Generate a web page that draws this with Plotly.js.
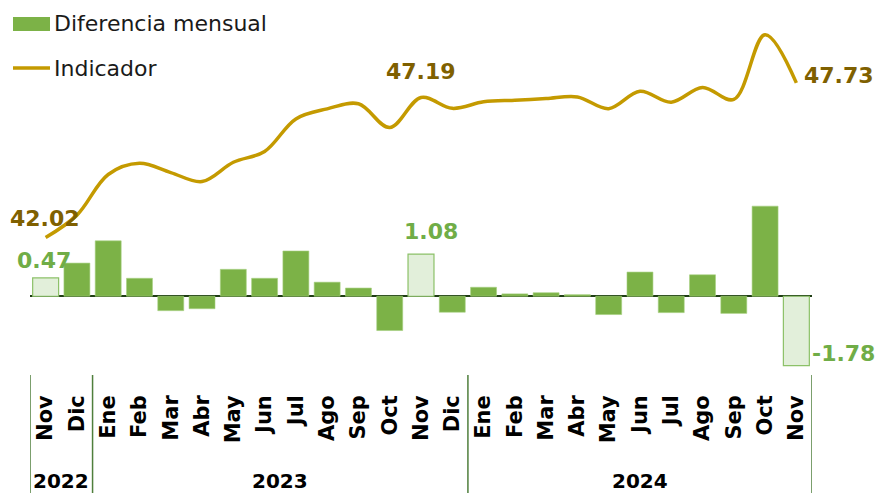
<!DOCTYPE html>
<html><head><meta charset="utf-8">
<script src="https://cdn.plot.ly/plotly-3.0.1.min.js"></script>
<style>html,body{margin:0;padding:0;background:#fff}#chart{width:880px;height:493px}</style>
</head><body><div id="chart"></div>
<script>
// ---- data ----
const months = ["Nov","Dic","Ene","Feb","Mar","Abr","May","Jun","Jul","Ago","Sep","Oct","Nov",
                "Dic","Ene","Feb","Mar","Abr","May","Jun","Jul","Ago","Sep","Oct","Nov"];
const years  = ["2022","2022","2023","2023","2023","2023","2023","2023","2023","2023","2023","2023","2023",
                "2023","2024","2024","2024","2024","2024","2024","2024","2024","2024","2024","2024"];
const diferencia = [0.47,0.85,1.42,0.46,-0.37,-0.32,0.69,0.46,1.16,0.36,0.21,-0.88,1.08,
                    -0.41,0.23,0.06,0.09,0.04,-0.47,0.62,-0.42,0.55,-0.44,2.31,-1.78];
const indicador = [42.02,42.85,44.35,44.76,44.42,44.09,44.80,45.20,46.40,46.77,46.96,46.08,47.19,
                   46.79,47.03,47.09,47.15,47.21,46.78,47.42,47.02,47.56,47.12,49.51,47.73];
const destacadosBarra = [0,12,24];
const destacadosLinea = [0,12,24];

// ---- styles ----
const FONT = "DejaVu Sans";
const GREEN = "#7cb247", LIGHT = "#e2efda", GREEN_LBL = "#70ad47";
const GOLD = "#c49a00", GOLD_LBL = "#7f6000";
const W = 880, H = 493, ML = 30, MR = 68, MT = 10, MB = 118;
const PW = W - ML - MR, PH = H - MT - MB;
const pxX = px => (px - ML) / PW;
const pxY = py => (H - MB - py) / PH;

const xs = months.map((_, i) => i);
const isHi = i => destacadosBarra.includes(i);

const bars = {
  type: "bar", x: xs, y: diferencia, name: "Diferencia mensual",
  marker: {
    color: xs.map(i => isHi(i) ? LIGHT : GREEN),
    line: { color: xs.map(i => isHi(i) ? "#8cc168" : "#a6d07f"), width: xs.map(i => isHi(i) ? 1.2 : 0.6) }
  },
  hoverinfo: "skip", showlegend: false
};
const line = {
  type: "scatter", mode: "lines", x: xs, y: indicador, yaxis: "y2", name: "Indicador",
  line: { color: GOLD, width: 3.5, shape: "spline", smoothing: 1 },
  hoverinfo: "skip", showlegend: false
};

const annotations = [];
destacadosBarra.forEach(i => {
  const v = diferencia[i];
  if (v >= 0) {
    annotations.push({ x: i, y: v, xref: "x", yref: "y", text: v.toFixed(2), showarrow: false,
      xanchor: "center", yanchor: "bottom", yshift: i === 0 ? 3 : 8, xshift: i === 12 ? 10 : -2,
      font: { family: FONT, size: 22, color: GREEN_LBL, weight: "bold" } });
  } else {
    annotations.push({ x: i, y: v, xref: "x", yref: "y", text: v.toFixed(2), showarrow: false,
      xanchor: "left", yanchor: "bottom", xshift: 14, yshift: -2,
      font: { family: FONT, size: 22, color: GREEN_LBL, weight: "bold" } });
  }
});
destacadosLinea.forEach((i, k) => {
  const last = k === destacadosLinea.length - 1;
  annotations.push({ x: i, y: indicador[i], xref: "x", yref: "y2", text: indicador[i].toFixed(2), showarrow: false,
    xanchor: last ? "left" : "center", yanchor: last ? "middle" : "bottom",
    xshift: last ? 6 : (i === 0 ? -1 : 0), yshift: last ? 7 : (i === 0 ? 5 : 12),
    font: { family: FONT, size: 22, color: GOLD_LBL, weight: "bold" } });
});

// year groups & separators
const shapes = [];
let start = 0;
const bounds = [-0.5];
for (let i = 1; i <= years.length; i++) {
  if (i === years.length || years[i] !== years[start]) {
    annotations.push({ x: (start + i - 1) / 2, y: pxY(481), xref: "x", yref: "paper", text: years[start],
      showarrow: false, xanchor: "center", yanchor: "middle",
      font: { family: FONT, size: 20, color: "#000", weight: "bold" } });
    bounds.push(i - 0.5);
    start = i;
  }
}
bounds.forEach(b => shapes.push({ type: "line", xref: "x", yref: "paper", x0: b, x1: b, y0: 0, y1: pxY(H),
  line: { color: "#4f7f3c", width: 1.5 } }));

// custom legend
shapes.push({ type: "rect", xref: "paper", yref: "paper", x0: pxX(13), x1: pxX(50), y0: pxY(31), y1: pxY(17),
  fillcolor: GREEN, line: { width: 0 } });
shapes.push({ type: "line", xref: "paper", yref: "paper", x0: pxX(13), x1: pxX(50), y0: pxY(68), y1: pxY(68),
  line: { color: GOLD, width: 3.5 } });
annotations.push({ xref: "paper", yref: "paper", x: pxX(52), y: pxY(24), text: bars.name, showarrow: false,
  xanchor: "left", yanchor: "middle", font: { family: FONT, size: 22, color: "#1a1a1a" } });
annotations.push({ xref: "paper", yref: "paper", x: pxX(52), y: pxY(68), text: line.name, showarrow: false,
  xanchor: "left", yanchor: "middle", font: { family: FONT, size: 22, color: "#1a1a1a" } });

const layout = {
  width: W, height: H, margin: { l: ML, r: MR, t: MT, b: MB },
  paper_bgcolor: "#fff", plot_bgcolor: "#fff", showlegend: false, bargap: 0.17,
  xaxis: { range: [-0.5, 24.5], tickvals: xs, ticktext: months, tickangle: -90,
    ticks: "", ticklabelstandoff: 15, showgrid: false, showline: false, zeroline: false,
    tickfont: { family: FONT, size: 21, color: "#000", weight: "bold" } },
  yaxis: { range: [-2.02, 7.34], showticklabels: false, showgrid: false, showline: false,
    zeroline: true, zerolinecolor: "#1f3d14", zerolinewidth: 1.5, ticks: "" },
  yaxis2: { range: [36.95, 50.42], overlaying: "y", side: "right", showticklabels: false,
    showgrid: false, showline: false, zeroline: false, ticks: "" },
  shapes: shapes, annotations: annotations
};
Plotly.newPlot("chart", [bars, line], layout, { displayModeBar: false, staticPlot: true });
</script></body></html>
